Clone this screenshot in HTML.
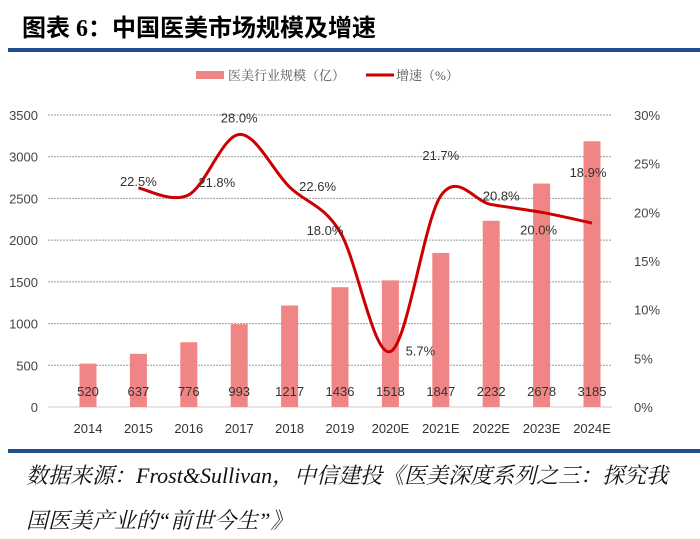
<!DOCTYPE html>
<html><head><meta charset="utf-8"><style>
body{margin:0;width:700px;height:539px;background:#fff;overflow:hidden;font-family:"Liberation Sans","Noto Sans CJK SC",sans-serif;}
#title{position:absolute;left:22px;top:8px;font-size:24px;font-weight:bold;color:#000;font-family:"Liberation Serif","Noto Sans CJK SC",sans-serif;}
.src{position:absolute;left:26px;font-size:22px;font-style:italic;color:#111;font-family:"Liberation Serif","Noto Serif CJK SC",serif;}
</style></head><body>
<div id="title">图表 6：中国医美市场规模及增速</div>
<div style="position:absolute;left:8px;top:48px;width:692px;height:4px;background:#1f4e8c"></div>
<svg id="chart" width="700" height="539" style="position:absolute;left:0;top:0"></svg>
<div style="position:absolute;left:8px;top:449px;width:692px;height:4px;background:#1f4e8c"></div>
<div class="src" style="top:459px">数据来源：Frost&amp;Sullivan，中信建投《医美深度系列之三：探究我</div>
<div class="src" style="top:504px">国医美产业的“前世今生”》</div>
<script>
const categories=["2014","2015","2016","2017","2018","2019","2020E","2021E","2022E","2023E","2024E"];
const sizes=[520,637,776,993,1217,1436,1518,1847,2232,2678,3185];
const growth=[null,22.5,21.8,28.0,22.6,18.0,5.7,21.7,20.8,20.0,18.9];
const leftTicks=[0,500,1000,1500,2000,2500,3000,3500];
const rightTicks=[0,5,10,15,20,25,30];
const NS="http://www.w3.org/2000/svg";
const svg=document.getElementById('chart');
const y0=407,yTop=115;
const yL=v=>y0-v/3500*(y0-yTop);
const yR=v=>y0-v/30*(y0-yTop);
const xC=i=>88+i*50.4;
function el(t,a,txt){const e=document.createElementNS(NS,t);for(const k in a)e.setAttribute(k,a[k]);if(txt!=null)e.textContent=txt;svg.appendChild(e);return e;}
let lg=el('rect',{x:196,y:71,width:28,height:8,fill:'#f08585'});


let lt=el('text',{x:228,y:80,'font-size':13,fill:'#555','font-family':'"Liberation Serif","Noto Serif CJK SC",serif'},'医美行业规模（亿）');


let ll=el('line',{x1:366,y1:75,x2:394,y2:75,stroke:'#cc0000','stroke-width':3});


let lt2=el('text',{x:396,y:80,'font-size':13,fill:'#555','font-family':'"Liberation Serif","Noto Serif CJK SC",serif'},'增速（%）');


leftTicks.forEach(v=>{
  const g=el('line',{x1:48,x2:612,y1:yL(v),y2:yL(v),stroke:v===0?'#ccc':'#999','stroke-width':1,'stroke-dasharray':v===0?'':'2,1'});
  
  
  const t=el('text',{x:38,y:yL(v)+5,'font-size':13,fill:'#444','text-anchor':'end'},v);
  
  
});
rightTicks.forEach(v=>{
  const t=el('text',{x:634,y:yR(v)+5,'font-size':13,fill:'#444'},v+'%');
  
  
});
sizes.forEach((v,i)=>{
  const b=el('rect',{x:xC(i)-8.5,y:yL(v),width:17,height:y0-yL(v),fill:'#f08585'});
  
  
  const t=el('text',{x:xC(i),y:396,'font-size':13,fill:'#333','text-anchor':'middle'},v);
  
  
  const c=el('text',{x:xC(i),y:433,'font-size':13,fill:'#333','text-anchor':'middle'},categories[i]);
  
  
});
const pts=[];growth.forEach((v,i)=>{if(v!=null)pts.push([xC(i),yR(v)]);});
let d='M'+pts[0][0]+','+pts[0][1];
for(let i=0;i<pts.length-1;i++){
  const p0=pts[Math.max(0,i-1)],p1=pts[i],p2=pts[i+1],p3=pts[Math.min(pts.length-1,i+2)];
  const c1=[p1[0]+(p2[0]-p0[0])/6,p1[1]+(p2[1]-p0[1])/6];
  const c2=[p2[0]-(p3[0]-p1[0])/6,p2[1]-(p3[1]-p1[1])/6];
  d+=' C'+c1+' '+c2+' '+p2;
}
const ln=el('path',{d:d,fill:'none',stroke:'#cc0000','stroke-width':3});


const offs=[null,[0,-2],[28,-8],[0,-12],[28,4],[-15,3],[30,4],[0,-36],[10,-4],[-3,22],[-4,-46]];
growth.forEach((v,i)=>{
  if(v==null)return;
  const t=el('text',{x:xC(i)+offs[i][0],y:yR(v)+offs[i][1],'font-size':13,fill:'#333','text-anchor':'middle'},v.toFixed(1)+'%');
  
  
});
</script>
</body></html>
